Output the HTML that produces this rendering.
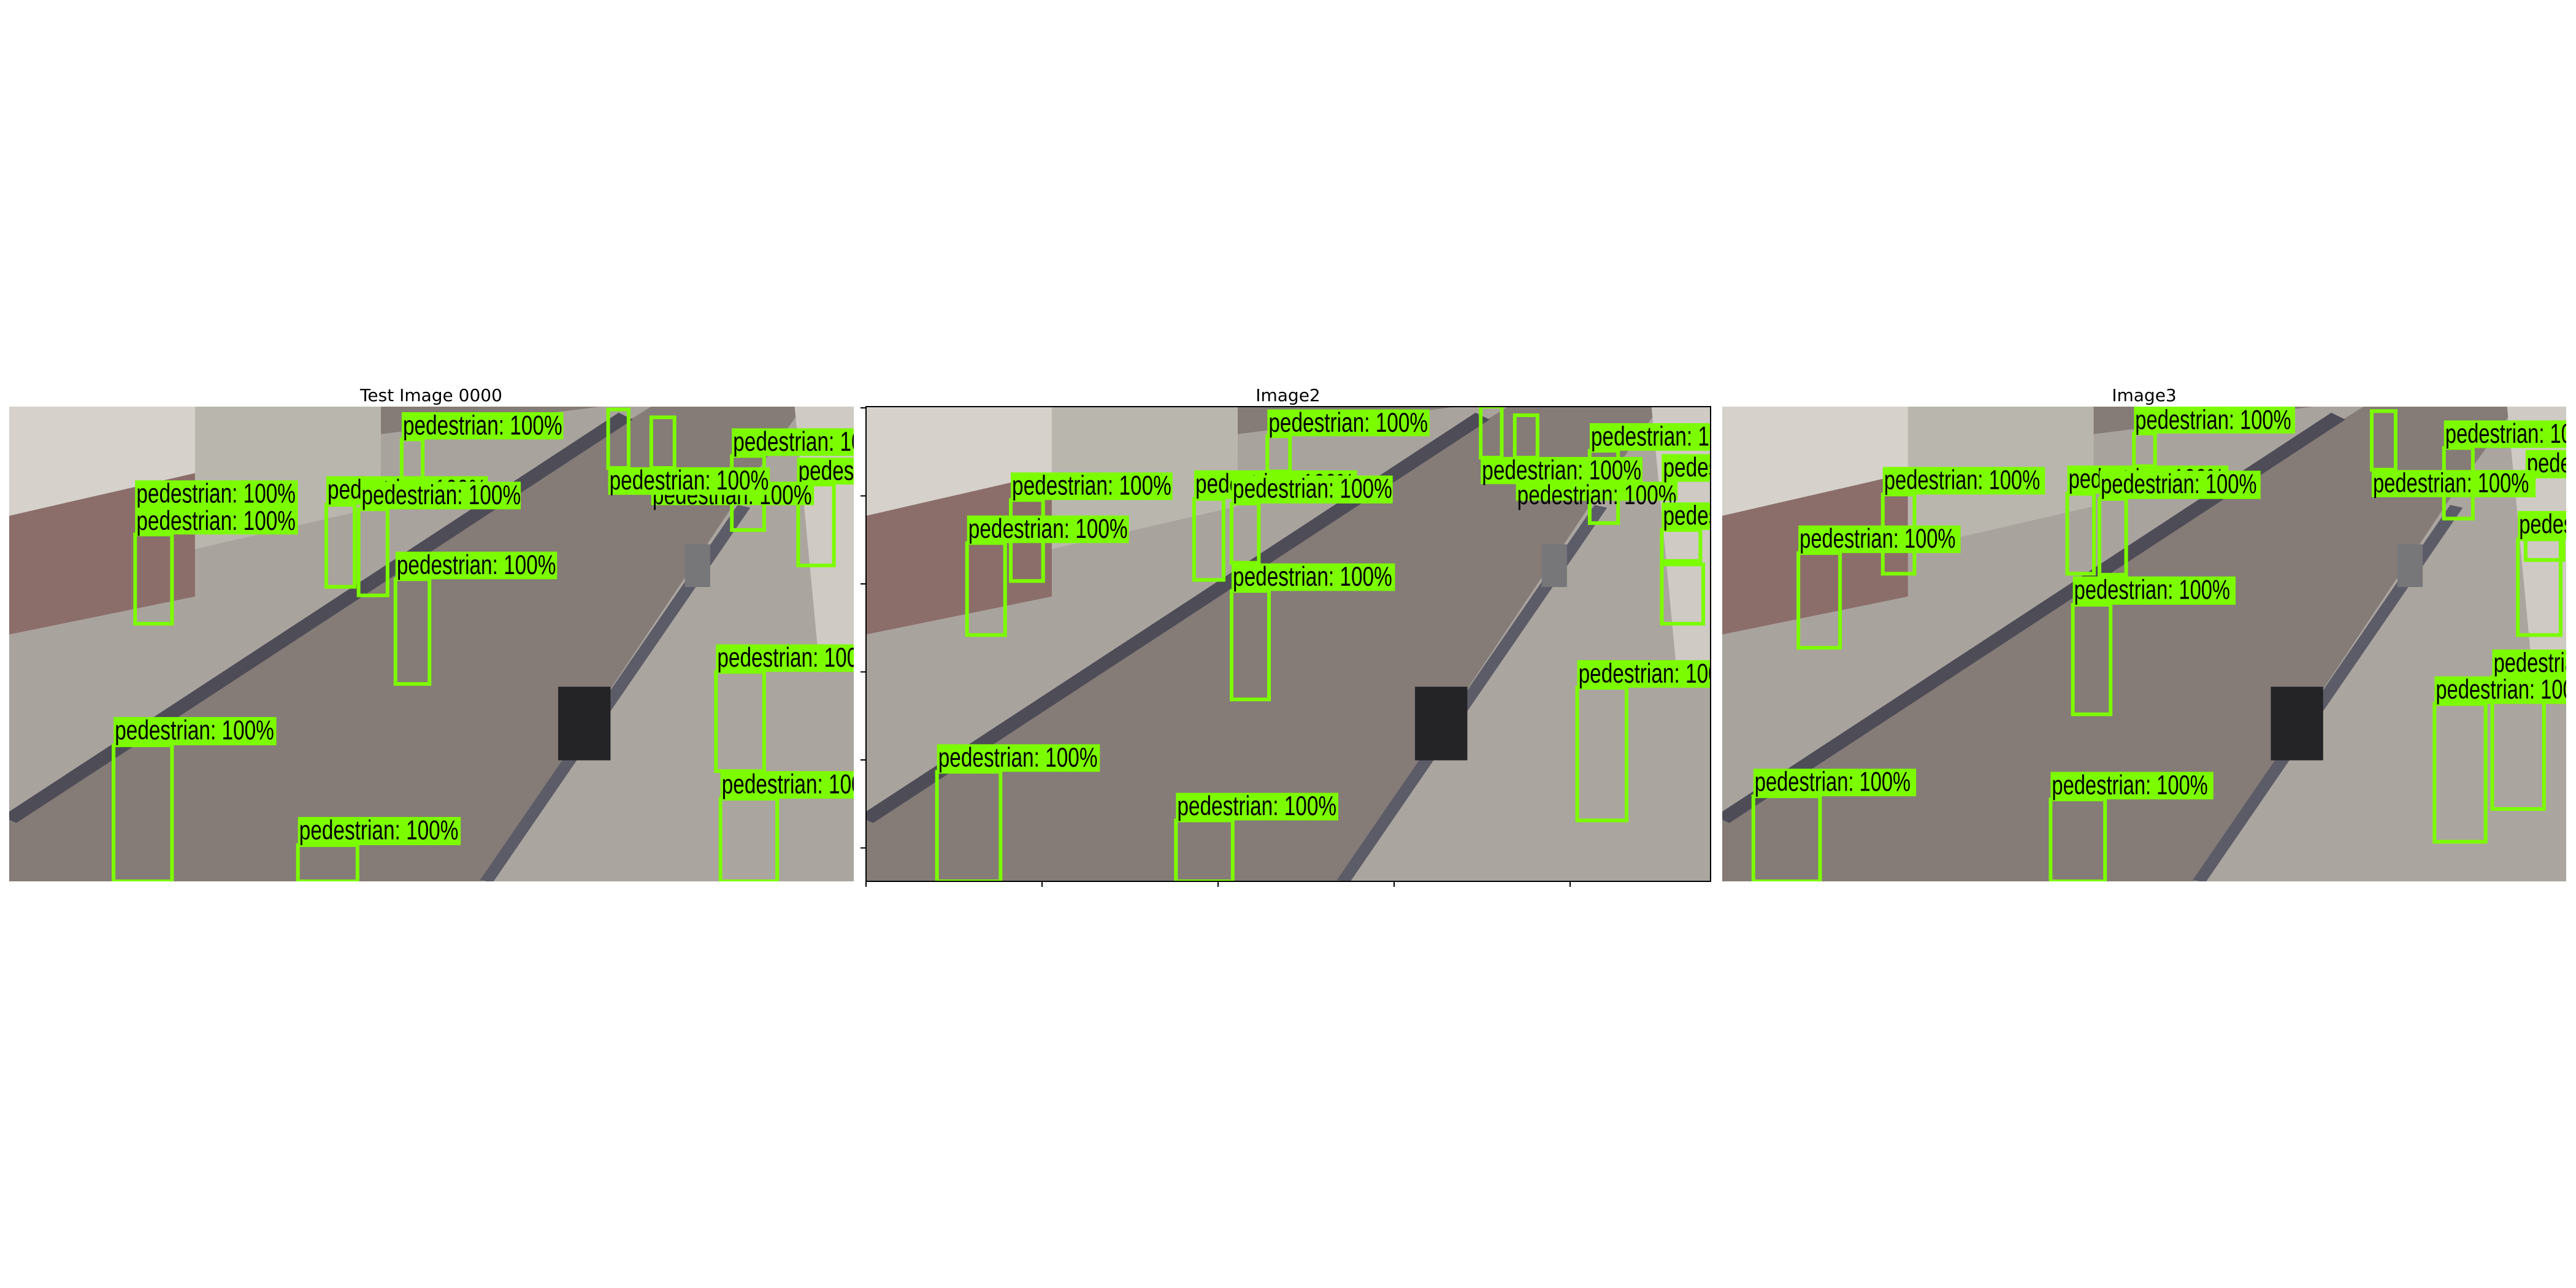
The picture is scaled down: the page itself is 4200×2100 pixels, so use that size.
<!DOCTYPE html>
<html><head><meta charset="utf-8"><style>
html,body{margin:0;padding:0;background:#fff;}
svg{display:block;}
</style></head><body>
<svg id="fig" xmlns="http://www.w3.org/2000/svg" width="4200" height="2100" viewBox="0 0 4200 2100">
<rect width="4200" height="2100" fill="#fff"/>
<text x="703" y="654" font-family="'DejaVu Sans','Liberation Sans',sans-serif" font-size="28" text-anchor="middle">Test Image 0000</text>
<text x="2100" y="654" font-family="'DejaVu Sans','Liberation Sans',sans-serif" font-size="28" text-anchor="middle">Image2</text>
<text x="3496" y="654" font-family="'DejaVu Sans','Liberation Sans',sans-serif" font-size="28" text-anchor="middle">Image3</text>
</svg>
<script>
const NS='http://www.w3.org/2000/svg';
const fig=document.getElementById('fig');
const panelRects=[[15,663,1377,774],[1412,663,1377,774],[2808,663,1376,774]];
const panelZ=[[16,1505],[35,1523],[31,1550]];
const panelNames=['panel-test-image-0000','panel-image2','panel-image3'];
const labels1=[[708,993,128,207],[1290,1505,175,255],[1405,1505,260,338],[1148,1435,330,398],[1072,1357,288,368],[238,525,326,405],[238,525,405,483],[575,860,314,397],[635,918,330,410],[697,982,533,613],[200,487,1013,1095],[525,812,1303,1385],[1262,1505,802,882],[1270,1505,1170,1250]];
const boxes1=[[708,745,207,330],[238,303,483,742],[575,625,397,635],[632,683,410,660],[697,757,613,917],[200,303,1095,1490],[525,630,1385,1490],[1262,1347,882,1170],[1270,1370,1250,1490],[1072,1108,120,290],[1148,1189,143,290],[1290,1347,255,470],[1407,1470,338,573]];
const labels2=[[742,1028,120,198],[290,575,303,383],[613,900,297,380],[679,963,312,393],[213,498,428,508],[679,967,567,647],[160,447,1092,1172],[581,867,1233,1313],[1288,1523,848,928],[1310,1523,160,240],[1180,1465,330,385],[1118,1403,258,337],[1437,1523,250,330],[1437,1523,390,470]];
const boxes2=[[742,782,198,300],[290,347,383,618],[213,280,508,775],[613,665,380,615],[679,727,393,565],[679,745,647,962],[160,272,1172,1490],[581,681,1313,1490],[1288,1375,928,1313],[1118,1155,112,260],[1178,1218,137,260],[1310,1360,240,450],[1437,1505,470,560],[1437,1510,570,742]];
const labels3=[[772,1062,112,190],[320,612,287,367],[168,460,457,537],[652,942,283,365],[710,1000,298,380],[662,955,605,687],[87,380,1163,1243],[622,915,1172,1252],[1417,1550,817,897],[1313,1550,895,975],[1330,1550,152,232],[1477,1550,238,320],[1200,1495,296,375],[1463,1550,415,497]];
const boxes3=[[772,810,190,285],[320,377,367,597],[168,243,537,812],[652,700,365,597],[710,758,380,600],[662,730,687,1005],[87,207,1243,1490],[622,720,1252,1490],[1313,1405,975,1375],[1417,1510,897,1280],[1200,1243,125,295],[1330,1382,232,437],[1477,1545,497,557],[1463,1540,497,775]];
const labelSets=[labels1,labels2,labels3];
const boxSets=[boxes1,boxes2,boxes3];

function el(tag,attrs,parent){const e=document.createElementNS(NS,tag);for(const k in attrs)e.setAttribute(k,attrs[k]);parent.appendChild(e);return e;}

panelRects.forEach((r,pi)=>{
  const [L,R]=panelZ[pi];
  const u=x=>(x-L)/(R-L)*1000, v=y=>(y-112)/1378*1000;
  const s=el('svg',{x:r[0],y:r[1],width:r[2],height:r[3],viewBox:'0 0 1000 1000',preserveAspectRatio:'none',overflow:'hidden'},fig);
  
  
  el('rect',{x:0,y:0,width:1000,height:1000,fill:'#857b77'},s);
  el('polygon',{points:'0,860 0,180 430,60 700,0 760,0 380,420 0,860',fill:'#a9a39e'},s);
  el('polygon',{points:'0,0 440,0 440,110 0,230',fill:'#d6d1cb'},s);
  el('polygon',{points:'0,230 220,140 220,400 0,480',fill:'#8b6e6a'},s);
  el('polygon',{points:'220,0 440,0 440,210 220,300',fill:'#b9b6ae'},s);
  el('polygon',{points:'560,1000 860,200 940,0 1000,0 1000,1000',fill:'#aba59f'},s);
  el('polygon',{points:'930,0 1000,0 1000,540 960,560',fill:'#cfcac4'},s);
  el('line',{x1:0,y1:870,x2:730,y2:20,stroke:'#4d4c57','stroke-width':22},s);
  el('line',{x1:565,y1:1000,x2:870,y2:210,stroke:'#5c5c68','stroke-width':16},s);
  el('rect',{x:650,y:590,width:62,height:155,fill:'#242426'},s);
  el('rect',{x:800,y:290,width:30,height:90,fill:'#77777a'},s);
  boxSets[pi].forEach((b,i)=>{
    const rc=el('rect',{x:u(b[0]),y:v(b[2]),width:u(b[1])-u(b[0]),height:v(b[3])-v(b[2]),fill:'none',stroke:'#7cfc00','stroke-width':6,'vector-effect':'non-scaling-stroke'},s);
    
    
  });
  labelSets[pi].forEach((b,i)=>{
    const g=el('g',{},s);
    
    
    const w=u(b[1])-u(b[0]);
    el('rect',{x:u(b[0]),y:v(b[2]),width:w,height:v(b[3])-v(b[2]),fill:'#7cfc00'},g);
    const full=(285/((R-L)))*1000;
    const t=el('text',{x:u(b[0])+1.5,y:v(b[2])+47,'font-family':"'Liberation Sans',sans-serif",'font-size':58,textLength:full*0.985,lengthAdjust:'spacingAndGlyphs',fill:'#000'},g);
    t.textContent='pedestrian: 100%';
  });
});
(function(){
  const r=panelRects[1];
  const f=el('rect',{x:r[0],y:r[1],width:r[2],height:r[3],fill:'none',stroke:'#000','stroke-width':2},fig);
  
  
  for(let i=0;i<5;i++){const x=r[0]+i*287;const t=el('line',{x1:x,y1:r[1]+r[3],x2:x,y2:r[1]+r[3]+9,stroke:'#000','stroke-width':2},fig);}
  for(let i=0;i<6;i++){const y=r[1]+2+i*143.5;const t=el('line',{x1:r[0]-9,y1:y,x2:r[0],y2:y,stroke:'#000','stroke-width':2},fig);}
})();
</script>
</body></html>
